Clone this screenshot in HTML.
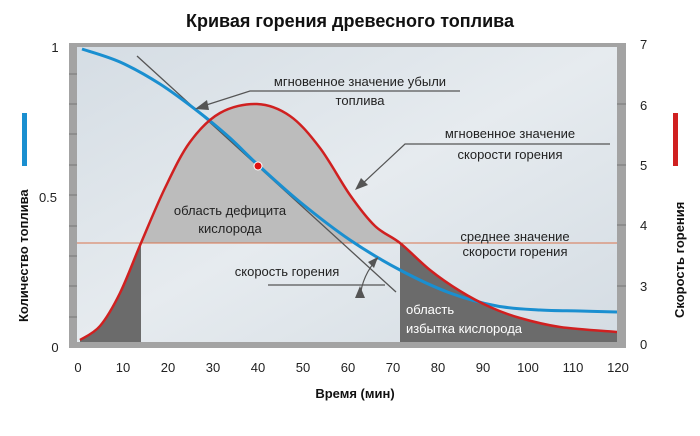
<!DOCTYPE html>
<html><head><meta charset="utf-8"><style>
body{margin:0;background:#fff;width:700px;height:431px;overflow:hidden}
svg text{font-family:"Liberation Sans","DejaVu Sans",sans-serif}
</style></head><body>
<svg id="s" width="700" height="431" viewBox="0 0 700 431" xmlns="http://www.w3.org/2000/svg">
<defs>
<linearGradient id="bg" x1="0" y1="0" x2="1" y2="1">
<stop offset="0" stop-color="#d5dde4"/><stop offset="0.5" stop-color="#e6ebef"/><stop offset="1" stop-color="#d4dce3"/>
</linearGradient>
<clipPath id="cp"><rect x="77" y="47" width="540" height="295"/></clipPath>
</defs>
<text x="350" y="27" font-size="18" font-weight="bold" text-anchor="middle" fill="#111">Кривая горения древесного топлива</text>
<rect x="69" y="43" width="557" height="305" fill="#a3a3a3"/>
<rect x="77" y="47" width="540" height="295" fill="url(#bg)"/>
<g stroke="#777" stroke-width="1">
<line x1="69" y1="74" x2="77" y2="74"/><line x1="69" y1="104" x2="77" y2="104"/><line x1="69" y1="134" x2="77" y2="134"/><line x1="69" y1="165" x2="77" y2="165"/><line x1="69" y1="195" x2="77" y2="195"/><line x1="69" y1="226" x2="77" y2="226"/><line x1="69" y1="256" x2="77" y2="256"/><line x1="69" y1="286" x2="77" y2="286"/><line x1="69" y1="317" x2="77" y2="317"/>
<line x1="617" y1="104" x2="626" y2="104"/><line x1="617" y1="165" x2="626" y2="165"/><line x1="617" y1="225" x2="626" y2="225"/><line x1="617" y1="286" x2="626" y2="286"/>
</g>
<g clip-path="url(#cp)">
<path id="light" fill="#bcbcbc"/>
<path id="darkL" fill="#6b6b6b"/>
<path id="darkR" fill="#6b6b6b"/>
<line x1="77" y1="243" x2="617" y2="243" stroke="#d9744e" stroke-width="1"/>
<line x1="137" y1="56" x2="396" y2="292" stroke="#555" stroke-width="1.3"/>
<path id="blue" fill="none" stroke="#1a8fd0" stroke-width="3"/>
<path id="red" fill="none" stroke="#d02020" stroke-width="2.5"/>
</g>
<circle cx="258" cy="166" r="4" fill="#e01010" stroke="#fff" stroke-width="1"/>
<g stroke="#555" stroke-width="1.2" fill="none">
<polyline points="460,91 250,91 200,107"/>
<polyline points="610,144 405,144 360,186"/>
<line x1="268" y1="285" x2="385" y2="285"/>
<path d="M360,298 Q362,275 378,258"/>
</g>
<polygon points="195,109 207,100 209,110" fill="#555"/>
<polygon points="355,190 361,178 368,185" fill="#555"/>
<polygon points="360,286 355,298 365,298" fill="#555"/>
<polygon points="378,257 368,262 374,268" fill="#555"/>
<g font-size="13" fill="#222" text-anchor="middle">
<text x="360" y="86">мгновенное значение убыли</text>
<text x="360" y="105">топлива</text>
<text x="510" y="138">мгновенное значение</text>
<text x="510" y="159">скорости горения</text>
<text x="230" y="215">область дефицита</text>
<text x="230" y="233">кислорода</text>
<text x="515" y="241">среднее значение</text>
<text x="515" y="256">скорости горения</text>
<text x="287" y="276">скорость горения</text>
</g>
<g font-size="13" fill="#fff"><text x="406" y="314">область</text><text x="406" y="333">избытка кислорода</text></g>
<g font-size="13" fill="#222">
<text x="55" y="52" text-anchor="middle">1</text>
<text x="48" y="202" text-anchor="middle">0.5</text>
<text x="55" y="352" text-anchor="middle">0</text>
<text x="640" y="49">7</text><text x="640" y="110">6</text><text x="640" y="170">5</text><text x="640" y="230">4</text><text x="640" y="291">3</text><text x="640" y="349">0</text>
</g>
<g font-size="13" fill="#222" text-anchor="middle" id="xt"></g>
<text x="355" y="398" font-size="13" font-weight="bold" text-anchor="middle" fill="#111">Время (мин)</text>
<rect x="22" y="113" width="5" height="53" fill="#1a8fd0"/>
<rect x="673" y="113" width="5" height="53" fill="#d02020"/>
<text transform="translate(28,322) rotate(-90)" font-size="13" font-weight="bold" fill="#111">Количество топлива</text>
<text transform="translate(684,318) rotate(-90)" font-size="13" font-weight="bold" fill="#111">Скорость горения</text>
</svg>
<script>
function cr(p){var d="M"+p[0][0]+","+p[0][1];for(var i=0;i<p.length-1;i++){var a=p[i-1]||p[i],b=p[i],c=p[i+1],e=p[i+2]||c;d+=" C"+(b[0]+(c[0]-a[0])/6)+","+(b[1]+(c[1]-a[1])/6)+" "+(c[0]-(e[0]-b[0])/6)+","+(c[1]-(e[1]-b[1])/6)+" "+c[0]+","+c[1];}return d;}
var red=[[80,340],[100,326],[120,293],[141,243],[165,188],[190,142],[220,113],[257,104],[290,116],[320,148],[350,195],[375,226],[400,243],[430,270],[460,291],[490,307],[520,318],[560,327],[617,332]];
var blue=[[82,49],[120,62],[160,84],[200,113],[230,138],[257,164],[300,202],[350,240],[400,270],[450,293],[497,306],[540,310],[580,311],[617,312]];
document.getElementById("red").setAttribute("d",cr(red));
document.getElementById("blue").setAttribute("d",cr(blue));
var L=red.filter(function(q){return q[0]<=141});
document.getElementById("darkL").setAttribute("d",cr(L)+" L141,342 L80,342 Z");
var M=red.filter(function(q){return q[0]>=141&&q[0]<=400});
document.getElementById("light").setAttribute("d",cr(M)+" Z");
var R=red.filter(function(q){return q[0]>=400});
document.getElementById("darkR").setAttribute("d",cr(R)+" L620,342 L400,342 Z");
var g=document.getElementById("xt"),s="";
for(var t=0;t<=120;t+=10){s+='<text x="'+(78+4.5*t)+'" y="372">'+t+'</text>';}
g.innerHTML=s;
</script>
</body></html>
